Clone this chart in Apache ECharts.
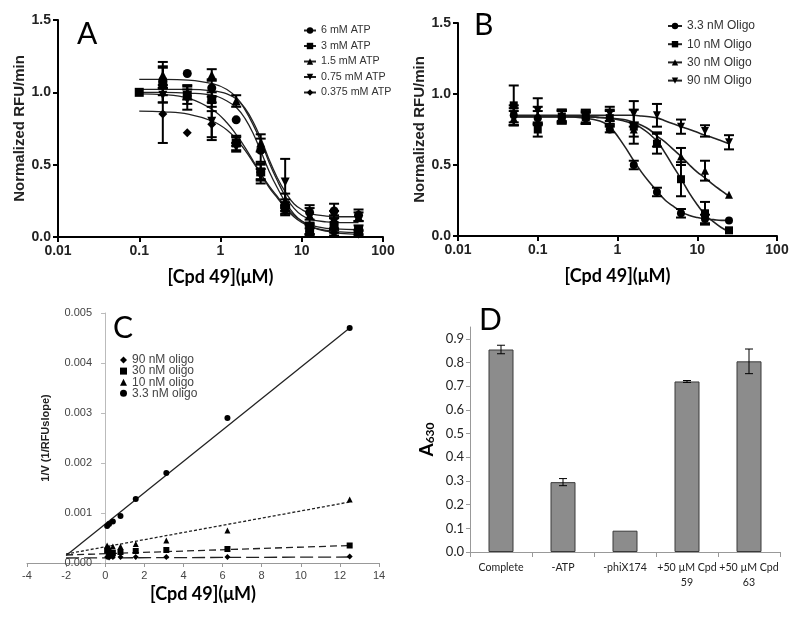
<!DOCTYPE html>
<html><head><meta charset="utf-8">
<script src="https://cdn.jsdelivr.net/npm/echarts/dist/echarts.min.js"></script>
<style>html,body{margin:0;padding:0;background:#fff}#c{width:800px;height:617px}</style>
</head><body><div id="c"></div><script>
// ---------- Panel A ----------
const aNames = ['6 mM ATP', '3 mM ATP', '1.5 mM ATP', '0.75 mM ATP', '0.375 mM ATP'];
const aDoses = [0.1, 0.195, 0.39, 0.78, 1.56, 3.125, 6.25, 12.5, 25, 50];
const a6mM = [null, 1.08, 1.13, 1.03, 0.81, 0.60, 0.22, 0.17, 0.18, 0.15];
const a6mMErr = [0, 0.10, 0, 0.06, 0, 0.08, 0.04, 0.05, 0.05, 0.04];
const a3mM = [1.00, 1.05, 0.98, 0.95, 0.65, 0.45, 0.20, 0.05, 0.08, 0.05];
const a3mMErr = [0, 0.12, 0.06, 0.05, 0.05, 0.06, 0.04, 0.04, 0.05, 0.03];
const a1_5mM = [null, 1.12, 1.00, 1.12, 0.94, 0.65, 0.25, 0.15, 0.12, 0.14];
const a1_5mMErr = [0, 0.09, 0.05, 0.04, 0.04, 0.06, 0.05, 0.05, 0.06, 0.03];
const a0_75mM = [null, 0.98, 0.95, 0.80, 0.62, 0.42, 0.38, 0.05, 0.10, 0.03];
const a0_75mMErr = [0, 0.05, 0.07, 0.13, 0.03, 0.05, 0.16, 0.03, 0.05, 0.02];
const a0_375mM = [null, 0.85, 0.72, 0.78, 0.66, 0.45, 0.18, 0.04, 0.03, 0.02];
const a0_375mMErr = [0, 0.20, 0, 0.09, 0.03, 0.05, 0.03, 0.02, 0.02, 0.02];
const aFitX = [0.1, 0.2, 0.4, 0.8, 1.2, 1.6, 2, 2.5, 3.2, 4, 5, 6.3, 8, 10, 13, 20, 30, 50];
const aFit6mM = [1.02, 1.02, 1.02, 1.01, 0.99, 0.95, 0.89, 0.80, 0.67, 0.53, 0.41, 0.31, 0.23, 0.19, 0.16, 0.145, 0.14, 0.14];
const aFit3mM = [1.0, 1.0, 0.995, 0.98, 0.94, 0.89, 0.82, 0.72, 0.58, 0.45, 0.34, 0.24, 0.16, 0.11, 0.08, 0.06, 0.055, 0.05];
const aFit1_5mM = [1.09, 1.09, 1.085, 1.06, 1.02, 0.96, 0.88, 0.78, 0.65, 0.51, 0.39, 0.28, 0.20, 0.15, 0.12, 0.105, 0.10, 0.10];
const aFit0_75mM = [0.99, 0.985, 0.96, 0.88, 0.79, 0.70, 0.62, 0.53, 0.43, 0.34, 0.27, 0.20, 0.14, 0.10, 0.07, 0.045, 0.035, 0.03];
const aFit0_375mM = [0.87, 0.865, 0.85, 0.80, 0.74, 0.67, 0.60, 0.52, 0.43, 0.35, 0.28, 0.21, 0.15, 0.11, 0.07, 0.04, 0.025, 0.02];

// ---------- Panel B ----------
const bNames = ['3.3 nM Oligo', '10 nM Oligo', '30 nM Oligo', '90 nM Oligo'];
const bDoses = [0.05, 0.1, 0.2, 0.4, 0.8, 1.6, 3.125, 6.25, 12.5, 25];
const b3_3 = [0.85, 0.83, 0.84, 0.83, 0.75, 0.50, 0.31, 0.16, 0.12, 0.11];
const b3_3Err = [0.05, 0.05, 0.04, 0.04, 0.02, 0.03, 0.03, 0.03, 0.03, 0];
const b10 = [0.92, 0.75, 0.84, 0.84, 0.83, 0.77, 0.65, 0.40, 0.16, 0.04];
const b10Err = [0.14, 0.05, 0.05, 0.05, 0.05, 0.12, 0.07, 0.12, 0.08, 0];
const b30 = [0.83, 0.85, 0.85, 0.84, 0.84, 0.75, 0.68, 0.56, 0.46, 0.29];
const b30Err = [0.05, 0.06, 0.04, 0.04, 0.05, 0.05, 0.05, 0.06, 0.07, 0];
const b90 = [0.85, 0.88, 0.84, 0.83, 0.86, 0.86, 0.85, 0.77, 0.74, 0.66];
const b90Err = [0.07, 0.09, 0.04, 0.04, 0.05, 0.09, 0.08, 0.05, 0.04, 0.05];
const bFitX = [0.05, 0.1, 0.2, 0.4, 0.6, 0.8, 1.2, 1.6, 2, 2.5, 3.2, 4, 5, 6.3, 8, 10, 12.5, 16, 20, 25];
const bFit3_3 = [0.84, 0.84, 0.84, 0.83, 0.81, 0.77, 0.64, 0.53, 0.45, 0.38, 0.31, 0.25, 0.21, 0.17, 0.145, 0.13, 0.12, 0.115, 0.11, 0.11];
const bFit10 = [0.84, 0.84, 0.84, 0.84, 0.835, 0.83, 0.81, 0.79, 0.76, 0.72, 0.66, 0.58, 0.49, 0.40, 0.30, 0.22, 0.15, 0.10, 0.06, 0.03];
const bFit30 = [0.84, 0.84, 0.84, 0.84, 0.835, 0.83, 0.82, 0.80, 0.78, 0.75, 0.70, 0.66, 0.61, 0.56, 0.50, 0.45, 0.41, 0.36, 0.32, 0.28];
const bFit90 = [0.85, 0.85, 0.85, 0.85, 0.85, 0.85, 0.85, 0.85, 0.845, 0.84, 0.83, 0.81, 0.79, 0.77, 0.75, 0.73, 0.71, 0.69, 0.67, 0.65];

// ---------- Panel C ----------
const cNames = ['90 nM oligo', '30 nM oligo', '10 nM oligo', '3.3 nM oligo'];
const cConc = [0.098, 0.195, 0.39, 0.78, 1.56, 3.125, 6.25, 12.5];
const c90 = [0.00012, 0.00011, 0.00012, 0.00012, 0.00012, 0.00012, 0.00012, 0.00013];
const c30 = [0.00025, 0.00018, 0.00020, 0.00022, 0.00024, 0.00026, 0.00028, 0.00035];
const c10 = [0.00035, 0.00031, 0.00033, 0.00033, 0.00038, 0.00045, 0.00065, 0.00127];
const c3_3 = [0.00074, 0.00078, 0.00083, 0.00094, 0.00128, 0.0018, 0.0029, 0.0047];
const cLineX = [-2, 12.5];
const c90Line = [0.00010, 0.00012];
const c30Line = [0.00016, 0.00035];
const c10Line = [0.00018, 0.00122];
const c3_3Line = [0.00015, 0.0047];

// ---------- Panel D ----------
const dCats = ['Complete', '-ATP', '-phiX174', '+50 \u00b5M Cpd\n59', '+50 \u00b5M Cpd\n63'];
const dVals = [0.855, 0.295, 0.09, 0.72, 0.805];
const dErr = [0.018, 0.015, 0, 0.004, 0.052];

// ---------- helpers ----------
const pairs = (xs, ys) => xs.map((x, i) => [x, ys[i]]).filter(d => d[1] != null);
const triples = (xs, ys, es) => xs.map((x, i) => [x, ys[i], es[i]]).filter(d => d[1] != null);
function errRender(capHalf, lw) {
  return function (params, api) {
    const x = api.value(0), y = api.value(1), e = api.value(2);
    if (!e) return null;
    const t = api.coord([x, y + e]), b = api.coord([x, y - e]);
    const style = { stroke: '#000', lineWidth: lw };
    return { type: 'group', children: [
      { type: 'line', shape: { x1: t[0], y1: t[1], x2: b[0], y2: b[1] }, style },
      { type: 'line', shape: { x1: t[0] - capHalf, y1: t[1], x2: t[0] + capHalf, y2: t[1] }, style },
      { type: 'line', shape: { x1: b[0] - capHalf, y1: b[1], x2: b[0] + capHalf, y2: b[1] }, style }
    ] };
  };
}
const SANS = 'Liberation Sans';
const boldTick = { fontFamily: SANS, fontWeight: 'bold', fontSize: 14, color: '#222' };
const cpdTitle = { fontFamily: 'Lato', fontWeight: 'bold', fontSize: 18, color: '#000' };
const blackLine = { lineStyle: { color: '#000', width: 2 } };
const logFmt = v => String(+(+v).toPrecision(2));
const tenthFmt = v => (Math.abs(v * 10 - Math.round(v * 10)) < 1e-6 ? v.toFixed(1) : '');

const symA = [['circle', 0], ['rect', 0], ['triangle', 0], ['triangle', 180], ['diamond', 0]];
const aPts = [a6mM, a3mM, a1_5mM, a0_75mM, a0_375mM];
const aErr = [a6mMErr, a3mMErr, a1_5mMErr, a0_75mMErr, a0_375mMErr];
const aFit = [aFit6mM, aFit3mM, aFit1_5mM, aFit0_75mM, aFit0_375mM];
const symB = [['circle', 0], ['rect', 0], ['triangle', 0], ['triangle', 180]];
const bPts = [b3_3, b10, b30, b90];
const bErr = [b3_3Err, b10Err, b30Err, b90Err];
const bFit = [bFit3_3, bFit10, bFit30, bFit90];
const symC = ['diamond', 'rect', 'triangle', 'circle'];
const cPts = [c90, c30, c10, c3_3];
const cLines = [c90Line, c30Line, c10Line, c3_3Line];
const cDash = [[13, 5], [7, 4], [3, 2], 'solid'];

const series = [];
// Panel A
aNames.forEach((n, i) => {
  series.push({ name: n, type: 'line', xAxisIndex: 0, yAxisIndex: 0, data: pairs(aFitX, aFit[i]),
    smooth: 0.4, showSymbol: false, symbol: symA[i][0], symbolRotate: symA[i][1], symbolSize: 8,
    lineStyle: { color: '#222', width: 1.3 }, itemStyle: { color: '#000' }, silent: true, z: 2 });
});
aNames.forEach((n, i) => {
  series.push({ name: n + ' err', type: 'custom', xAxisIndex: 0, yAxisIndex: 0,
    data: triples(aDoses, aPts[i], aErr[i]), renderItem: errRender(5, 2), z: 3 });
  series.push({ name: n + ' pts', type: 'scatter', xAxisIndex: 0, yAxisIndex: 0,
    data: pairs(aDoses, aPts[i]), symbol: symA[i][0], symbolRotate: symA[i][1], symbolSize: 9,
    itemStyle: { color: '#000', opacity: 1 }, z: 4 });
});
// Panel B
bNames.forEach((n, i) => {
  series.push({ name: n, type: 'line', xAxisIndex: 1, yAxisIndex: 1, data: pairs(bFitX, bFit[i]),
    smooth: 0.4, showSymbol: false, symbol: symB[i][0], symbolRotate: symB[i][1], symbolSize: 8,
    lineStyle: { color: '#222', width: 1.6 }, itemStyle: { color: '#000' }, silent: true, z: 2 });
});
bNames.forEach((n, i) => {
  series.push({ name: n + ' err', type: 'custom', xAxisIndex: 1, yAxisIndex: 1,
    data: triples(bDoses, bPts[i], bErr[i]), renderItem: errRender(5, 2), z: 3 });
  series.push({ name: n + ' pts', type: 'scatter', xAxisIndex: 1, yAxisIndex: 1,
    data: pairs(bDoses, bPts[i]), symbol: symB[i][0], symbolRotate: symB[i][1], symbolSize: 8,
    itemStyle: { color: '#000', opacity: 1 }, z: 4 });
});
// Panel C
cNames.forEach((n, i) => {
  series.push({ name: n, type: 'scatter', xAxisIndex: 2, yAxisIndex: 2, data: pairs(cConc, cPts[i]),
    symbol: symC[i], symbolSize: 6, itemStyle: { color: '#000', opacity: 1 }, z: 4 });
});
cNames.forEach((n, i) => {
  series.push({ name: n + ' fit', type: 'line', xAxisIndex: 2, yAxisIndex: 2, data: pairs(cLineX, cLines[i]),
    showSymbol: false, symbol: 'none', lineStyle: { color: '#222', width: 1.3, type: cDash[i] }, silent: true, z: 2 });
});
// Panel D
series.push({ name: 'A630', type: 'bar', xAxisIndex: 3, yAxisIndex: 3, data: dVals, barWidth: 25,
  itemStyle: { color: '#8c8c8c', borderColor: '#3a3a3a', borderWidth: 1 }, z: 2 });
series.push({ name: 'A630 err', type: 'custom', xAxisIndex: 3, yAxisIndex: 3,
  data: dCats.map((c, i) => [i, dVals[i], dErr[i]]), renderItem: errRender(4, 1), z: 3 });

const letter = (t, l, tp) => ({ text: t, left: l, top: tp, padding: 0,
  textStyle: { fontFamily: 'Lato', fontSize: 30, fontWeight: 'normal', color: '#000' } });

const option = {
  backgroundColor: '#fff',
  animation: false,
  title: [letter('A', 77, 19), letter('B', 474, 10), letter('C', 113, 313), letter('D', 479, 305)],
  legend: [
    { data: aNames, orient: 'vertical', left: 303, top: 25, padding: 0, itemWidth: 12, itemHeight: 8, itemGap: 4.5,
      selectedMode: false, textStyle: { fontFamily: SANS, fontSize: 10.7, color: '#333' } },
    { data: bNames, orient: 'vertical', left: 667, top: 20, padding: 0, itemWidth: 14, itemHeight: 8, itemGap: 6.2,
      selectedMode: false, textStyle: { fontFamily: SANS, fontSize: 12, color: '#333' } },
    { data: cNames, orient: 'vertical', left: 120, top: 354, padding: 0, itemWidth: 7, itemHeight: 7, itemGap: -0.9,
      selectedMode: false, textStyle: { fontFamily: SANS, fontSize: 12, lineHeight: 11, color: '#444' } }
  ],
  grid: [
    { left: 58, top: 20, width: 325, height: 217, outerBoundsMode: 'none', containLabel: false },
    { left: 458, top: 23, width: 319, height: 213, outerBoundsMode: 'none', containLabel: false },
    { left: 27, top: 313, width: 352, height: 250, outerBoundsMode: 'none', containLabel: false },
    { left: 470, top: 327, width: 310, height: 225, outerBoundsMode: 'none', containLabel: false }
  ],
  xAxis: [
    { gridIndex: 0, type: 'log', logBase: 10, min: 0.01, max: 100,
      axisLine: { onZero: false, ...blackLine }, axisTick: { show: true, length: 5, lineStyle: { width: 2, color: '#000' } },
      minorTick: { show: false }, splitLine: { show: false },
      axisLabel: { ...boldTick, margin: 7, formatter: logFmt },
      name: '[Cpd 49](\u03bcM)', nameLocation: 'middle', nameGap: 31, nameTextStyle: cpdTitle },
    { gridIndex: 1, type: 'log', logBase: 10, min: 0.01, max: 100,
      axisLine: { onZero: false, ...blackLine }, axisTick: { show: true, length: 5, lineStyle: { width: 2, color: '#000' } },
      minorTick: { show: false }, splitLine: { show: false },
      axisLabel: { ...boldTick, margin: 7, formatter: logFmt },
      name: '[Cpd 49](\u03bcM)', nameLocation: 'middle', nameGap: 31, nameTextStyle: cpdTitle },
    { gridIndex: 2, type: 'value', min: -4, max: 14, interval: 2,
      axisLine: { show: true, onZero: true, lineStyle: { color: '#999', width: 1 } },
      axisTick: { show: true, length: 4, lineStyle: { color: '#999' } }, splitLine: { show: false },
      axisLabel: { fontFamily: SANS, fontSize: 11, color: '#444', margin: 7 },
      name: '[Cpd 49](\u03bcM)', nameLocation: 'middle', nameGap: 22, nameTextStyle: cpdTitle },
    { gridIndex: 3, type: 'category', data: dCats,
      axisLine: { show: true, onZero: false, lineStyle: { color: '#999', width: 1 } },
      axisTick: { show: true, length: 5, alignWithLabel: false, lineStyle: { color: '#999' } },
      axisLabel: { interval: 0, fontFamily: 'Lato', fontSize: 10.6, color: '#222', margin: 8, lineHeight: 15 } }
  ],
  yAxis: [
    { gridIndex: 0, type: 'value', min: 0, max: 1.5, interval: 0.5,
      axisLine: { show: true, onZero: false, ...blackLine }, axisTick: { show: true, length: 5, lineStyle: { width: 2, color: '#000' } },
      splitLine: { show: false }, axisLabel: { ...boldTick, margin: 7, formatter: v => v.toFixed(1) },
      name: 'Normalized RFU/min', nameLocation: 'middle', nameGap: 31,
      nameTextStyle: { fontFamily: SANS, fontWeight: 'bold', fontSize: 15, color: '#222' } },
    { gridIndex: 1, type: 'value', min: 0, max: 1.5, interval: 0.5,
      axisLine: { show: true, onZero: false, ...blackLine }, axisTick: { show: true, length: 5, lineStyle: { width: 2, color: '#000' } },
      splitLine: { show: false }, axisLabel: { ...boldTick, margin: 7, formatter: v => v.toFixed(1) },
      name: 'Normalized RFU/min', nameLocation: 'middle', nameGap: 31,
      nameTextStyle: { fontFamily: SANS, fontWeight: 'bold', fontSize: 15, color: '#222' } },
    { gridIndex: 2, type: 'value', min: 0, max: 0.005, interval: 0.001, offset: -78,
      axisLine: { show: true, onZero: false, lineStyle: { color: '#bbb', width: 1 } },
      axisTick: { show: true, length: 4, lineStyle: { color: '#bbb' } }, splitLine: { show: false },
      axisLabel: { fontFamily: SANS, fontSize: 11, color: '#444', margin: 13, formatter: v => v.toFixed(3) },
      name: '1/V (1/RFUslope)', nameLocation: 'middle', nameGap: 54,
      nameTextStyle: { fontFamily: SANS, fontWeight: 'bold', fontSize: 11, color: '#222' } },
    { gridIndex: 3, type: 'value', min: 0, max: 0.95, interval: 0.1,
      axisLine: { show: true, onZero: false, lineStyle: { color: '#999', width: 1 } },
      axisTick: { show: true, length: 4, lineStyle: { color: '#999' } }, splitLine: { show: false },
      axisLabel: { fontFamily: 'Lato', fontSize: 13, color: '#222', margin: 6, formatter: tenthFmt, showMaxLabel: false },
      name: '{a|A}{s|630}', nameLocation: 'middle', nameGap: 34,
      nameTextStyle: { rich: {
        a: { fontFamily: 'Lato', fontWeight: 'bold', fontSize: 19, color: '#000', lineHeight: 22, verticalAlign: 'bottom' },
        s: { fontFamily: 'Lato', fontWeight: 'bold', fontSize: 12, color: '#000', lineHeight: 22, verticalAlign: 'bottom', padding: [6, 0, 0, 0] } } } }
  ],
  series
};
const chart = echarts.init(document.getElementById('c'), null, { renderer: 'canvas' });
chart.setOption(option);
</script></body></html>
